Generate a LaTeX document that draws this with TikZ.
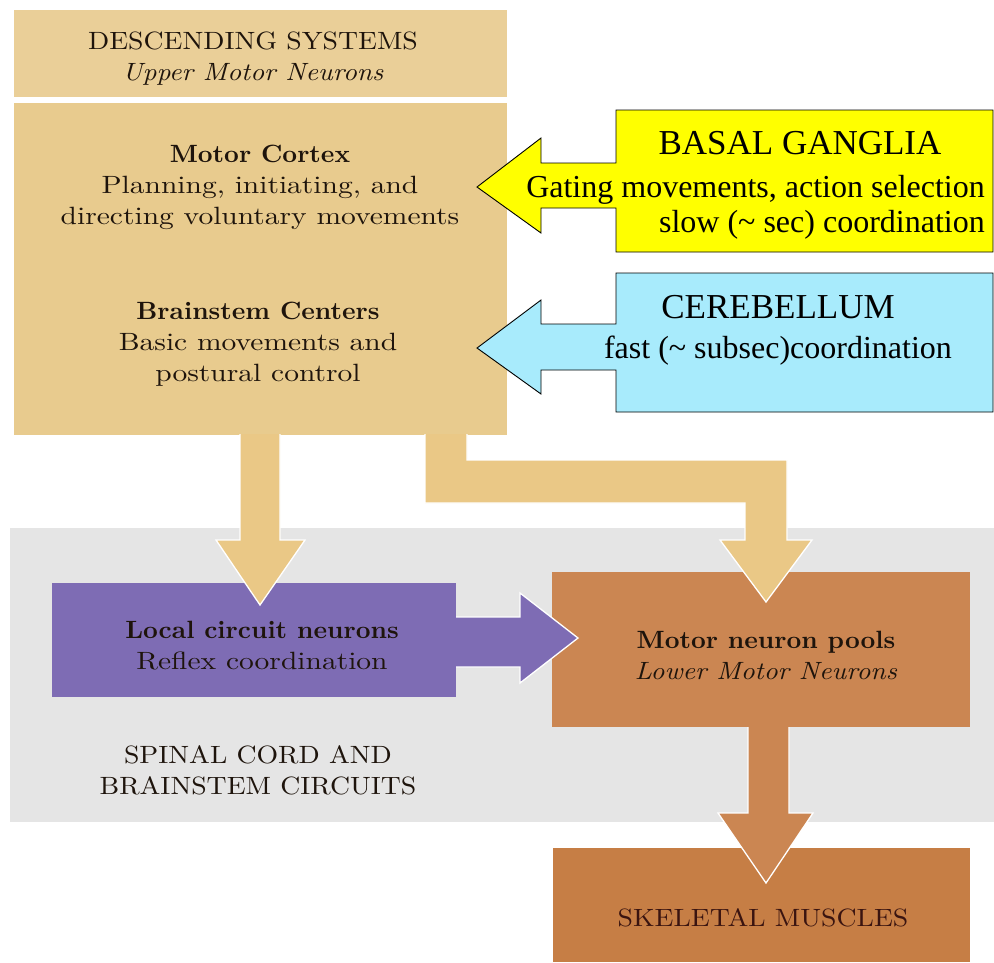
\documentclass[tikz,border=0pt]{standalone}
\usepackage{fontspec}
\usepackage{graphicx}
\newfontfamily\callfont{Liberation Serif}
\newfontfamily\bookfont{lmroman10}[Extension=.otf, UprightFont=*-regular, BoldFont=*-bold, ItalicFont=*-italic, BoldItalicFont=*-bolditalic]
\definecolor{tanbox}{HTML}{E8CB8E}
\definecolor{tantop}{HTML}{EACF98}
\definecolor{tanarrow}{HTML}{EAC886}
\definecolor{purplebox}{HTML}{7E6CB4}
\definecolor{brownbox}{HTML}{CB8652}
\definecolor{skelbox}{HTML}{C67E45}
\definecolor{grayband}{HTML}{E5E5E5}
\definecolor{bgyellow}{HTML}{FFFF00}
\definecolor{bgcyan}{HTML}{A8EBFC}
\definecolor{inkc}{HTML}{1E140C}
\definecolor{inkskel}{HTML}{3A1410}
\newcommand\bt[1]{\begin{tabular}{@{}c@{}}#1\end{tabular}}
\newcommand\rgl[1]{\scalebox{1.18}[1]{#1}}
\newcommand\cpl[1]{\scalebox{1.11}[1]{#1}}
\newcommand\bdl[1]{\scalebox{1.03}[1]{\textbf{#1}}}
\newcommand\itl[1]{\scalebox{1.09}[1]{\textit{#1}}}
\begin{document}
\begin{tikzpicture}[x=1pt,y=-1pt,
  booktext/.style={font=\bookfont\fontsize{25}{31}\selectfont, text=inkc, inner sep=0},
  block/.style={anchor=north west, inner sep=0, outer sep=0},
  edge/.style={draw=white, line width=1.3pt, line join=miter},
  callout/.style={draw=black, line width=0.9pt, line join=miter},
  calltitle/.style={font=\callfont\fontsize{35}{40}\selectfont, inner sep=0},
  callline/.style={font=\callfont\fontsize{32}{36}\selectfont, inner sep=0},
]
\useasboundingbox (0,0) rectangle (994,962);
\fill[white] (0,0) rectangle (994,962);

% background band and boxes
\node[block, fill=grayband, minimum width=984, minimum height=294] (band) at (10,528) {};
\node[block, fill=tantop, minimum width=493, minimum height=87] (top) at (14,10) {};
\node[block, fill=tanbox, minimum width=493, minimum height=332] (main) at (14,103) {};
\node[block, fill=purplebox, minimum width=404, minimum height=114] (local) at (52,583) {};
\node[block, fill=brownbox, minimum width=418, minimum height=155] (pools) at (552,572) {};
\node[block, fill=skelbox, minimum width=417, minimum height=114] (skel) at (553,848) {};

% tan arrows from descending systems
\fill[tanarrow] (240,434) -- (240,540) -- (216,540) -- (260,605) -- (305,540) -- (280,540) -- (280,434) -- cycle;
\draw[edge] (240,434) -- (240,540) -- (216,540) -- (260,605) -- (305,540) -- (280,540) -- (280,434);
\fill[tanarrow] (425,434) -- (425,503) -- (745,503) -- (745,540) -- (720,540) -- (766,602) -- (812,540) -- (787,540) -- (787,460) -- (467,460) -- (467,434) -- cycle;
\draw[edge] (425,434) -- (425,503) -- (745,503) -- (745,540) -- (720,540) -- (766,602) -- (812,540) -- (787,540) -- (787,460) -- (467,460) -- (467,434);

% purple arrow local -> pools
\fill[purplebox] (455,617) -- (520,617) -- (520,593) -- (578,638) -- (520,683) -- (520,667) -- (455,667) -- cycle;
\draw[edge] (456,617) -- (520,617) -- (520,593) -- (578,638) -- (520,683) -- (520,667) -- (456,667);

% brown arrow pools -> skeletal muscles
\fill[brownbox] (748,726) -- (748,813) -- (718,813) -- (766,883) -- (813,813) -- (789,813) -- (789,726) -- cycle;
\draw[edge] (748,727) -- (748,813) -- (718,813) -- (766,883) -- (813,813) -- (789,813) -- (789,727);

% callouts
\filldraw[fill=bgyellow, callout] (616,110) -- (993,110) -- (993,252) -- (616,252) -- (616,208) -- (541,208) -- (541,233) -- (477,187) -- (541,138) -- (541,163) -- (616,163) -- cycle;
\filldraw[fill=bgcyan, callout] (616,273) -- (993,273) -- (993,412) -- (616,412) -- (616,370) -- (541,370) -- (541,394) -- (477,348) -- (541,300) -- (541,324) -- (616,324) -- cycle;

% texts
\node[booktext] (dstext) at (253,59) {\bt{\cpl{DESCENDING SYSTEMS}\\ \itl{Upper Motor Neurons}}};
\node[booktext] (mctext) at (260,187) {\bt{\bdl{Motor Cortex}\\ \rgl{Planning, initiating, and}\\ \rgl{directing voluntary movements}}};
\node[booktext] (bstext) at (258,344) {\bt{\bdl{Brainstem Centers}\\ \rgl{Basic movements and}\\ \rgl{postural control}}};
\node[booktext] (lctext) at (262,648) {\bt{\bdl{Local circuit neurons}\\ \rgl{Reflex coordination}}};
\node[booktext] (mptext) at (766,658) {\bt{\bdl{Motor neuron pools}\\ \itl{Lower Motor Neurons}}};
\node[booktext] (sctext) at (258,773) {\bt{\cpl{SPINAL CORD AND}\\ \cpl{BRAINSTEM CIRCUITS}}};
\node[booktext, text=inkskel] (smtext) at (763,920) {\bt{\cpl{SKELETAL MUSCLES}}};

\node[calltitle] (bgtitle) at (800,143) {BASAL GANGLIA};
\node[callline, anchor=base east] (bgl1) at (985,197) {Gating movements, action selection};
\node[callline, anchor=base east] (bgl2) at (985,232) {slow (\textasciitilde\ sec) coordination};
\node[calltitle] (cbtitle) at (778,307) {CEREBELLUM};
\node[callline, anchor=base] (cbl1) at (778,358) {fast (\textasciitilde\ subsec)coordination};
\end{tikzpicture}
\end{document}
